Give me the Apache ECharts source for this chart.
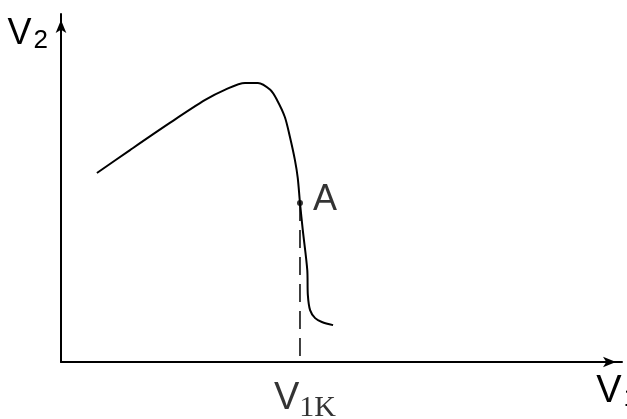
<!DOCTYPE html>
<html>
<head>
<meta charset="utf-8">
<script src="https://cdn.jsdelivr.net/npm/echarts@6/dist/echarts.min.js"></script>
<style>
  html, body { margin: 0; padding: 0; background: #fff; }
  #chart { width: 627px; height: 419px; }
</style>
</head>
<body>
<div id="chart"></div>
<script>
// curve V2(V1) (arbitrary units, axes 0..10)
const curveV1 = [0.64, 1.23, 1.94, 2.57, 2.92, 3.28, 3.51, 3.73, 3.85, 3.99, 4.08, 4.17, 4.22, 4.26, 4.31, 4.39, 4.40, 4.44, 4.53, 4.65, 4.85];
const curveV2 = [5.43, 6.09, 6.87, 7.53, 7.82, 8.02, 8.02, 7.82, 7.53, 7.04, 6.47, 5.80, 5.29, 4.57, 3.79, 2.64, 1.93, 1.49, 1.26, 1.15, 1.06];
// point A and its critical voltage V1K
const pointA = [4.26, 4.57];
const v1k = 4.26;

const chart = echarts.init(document.getElementById('chart'));

const font = 'Liberation Sans, Arial, sans-serif';
const serif = 'Liberation Serif, Times New Roman, serif';

chart.setOption({
  animation: false,
  backgroundColor: '#fff',
  grid: { left: 61, right: 5, top: 14, bottom: 57, outerBoundsMode: 'none' },
  xAxis: {
    type: 'value', min: 0, max: 10,
    splitLine: { show: false }, axisTick: { show: false }, axisLabel: { show: false },
    axisLine: { lineStyle: { color: '#000', width: 2 }, symbol: ['none', 'arrow'], symbolSize: [8, 13], symbolOffset: [0, -6] },
    name: '{v|V}{s|1}',
    nameLocation: 'end',
    nameGap: 0,
    nameTextStyle: {
      align: 'right', verticalAlign: 'top', padding: [10, -16, 0, 0],
      rich: {
        v: { fontFamily: font, fontSize: 38, color: '#000' },
        s: { fontFamily: font, fontSize: 26, color: '#000', padding: [14, 0, 0, 2] }
      }
    }
  },
  yAxis: {
    type: 'value', min: 0, max: 10,
    splitLine: { show: false }, axisTick: { show: false }, axisLabel: { show: false },
    axisLine: { lineStyle: { color: '#000', width: 2 }, symbol: ['none', 'arrow'], symbolSize: [8, 13], symbolOffset: [0, -6] },
    name: '{v|V}{s|2}',
    nameLocation: 'end',
    nameGap: 0,
    nameTextStyle: {
      align: 'right', verticalAlign: 'top', padding: [0, 13, 0, 0],
      rich: {
        v: { fontFamily: font, fontSize: 36, color: '#000' },
        s: { fontFamily: font, fontSize: 26, color: '#000', padding: [14, 0, 0, 2] }
      }
    }
  },
  series: [
    {
      type: 'line',
      data: curveV1.map((x, i) => [x, curveV2[i]]),
      smooth: 0.3,
      showSymbol: false,
      lineStyle: { color: '#000', width: 2 }
    },
    {
      type: 'line',
      data: [pointA, [v1k, 0]],
      showSymbol: false,
      lineStyle: { color: '#000', width: 1.5, type: [18, 9] }
    },
    {
      type: 'scatter',
      data: [pointA],
      symbolSize: 6,
      itemStyle: { color: '#000' },
      label: {
        show: true, position: 'right', distance: 10, offset: [0, -3],
        formatter: 'A', fontFamily: font, fontSize: 36, color: '#000'
      }
    },
    {
      type: 'scatter',
      data: [[v1k, 0]],
      symbolSize: 0,
      label: {
        show: true, position: 'bottom', distance: 13, offset: [5, 0],
        formatter: '{v|V}{s|1K}',
        rich: {
          v: { fontFamily: font, fontSize: 38, color: '#000' },
          s: { fontFamily: serif, fontSize: 30, color: '#000', padding: [18, 0, 0, 0] }
        }
      }
    }
  ]
});
</script>
</body>
</html>
